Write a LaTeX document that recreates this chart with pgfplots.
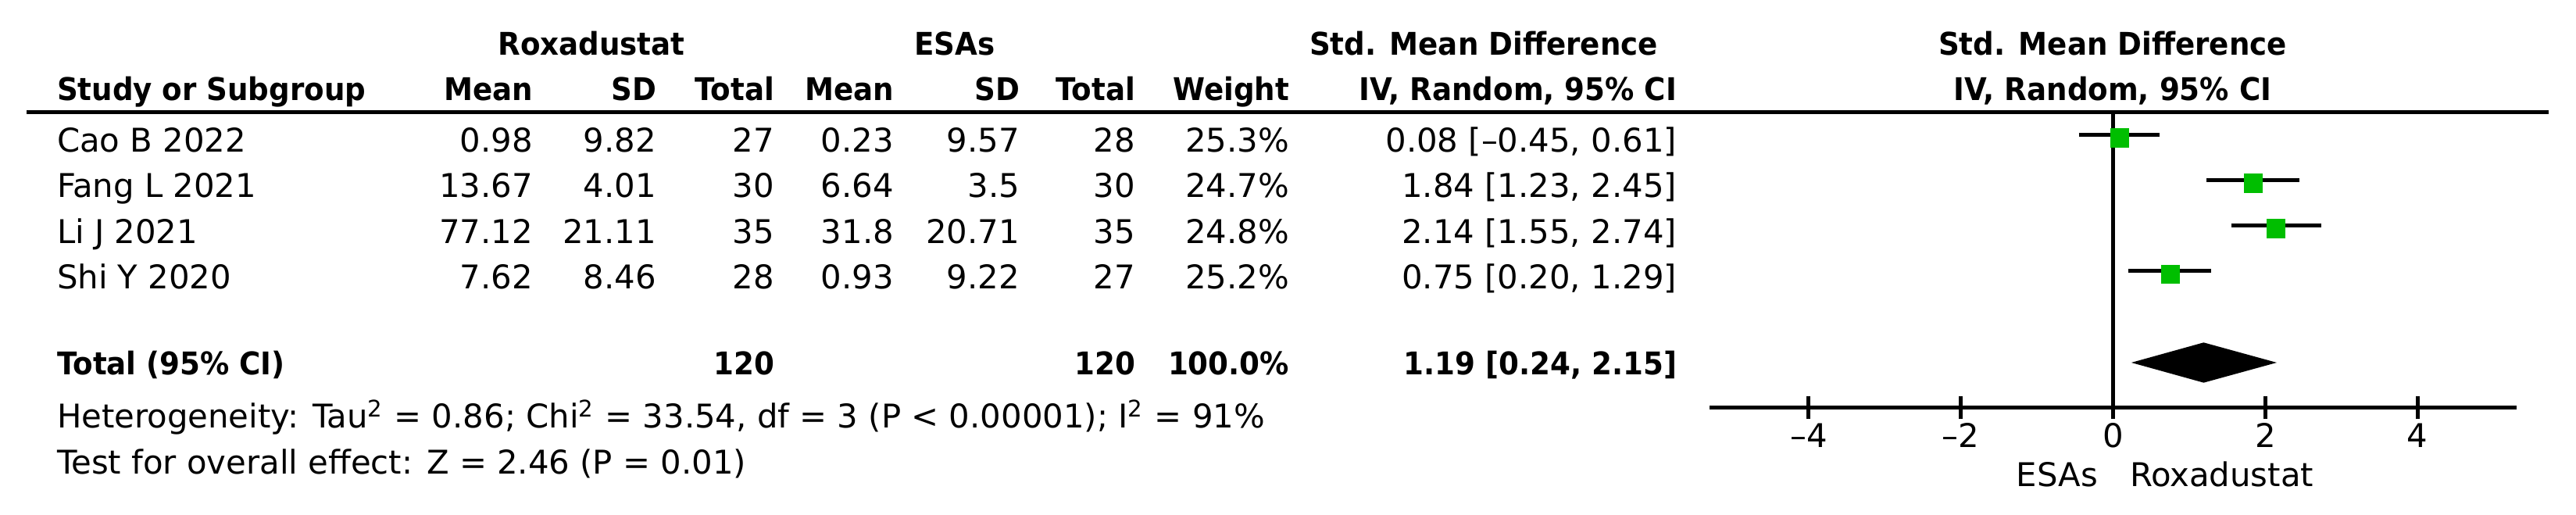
\documentclass[border=0pt]{standalone}
\usepackage{fontspec}
\setmainfont{DejaVu Sans}[BoldFeatures={FakeStretch=0.93}]
\usepackage{pgfplots}
\pgfplotsset{compat=1.18}
\definecolor{rmgreen}{RGB}{0,190,0}
\begin{document}
\begin{tikzpicture}[font=\fontsize{10.45pt}{12pt}\selectfont]
\path[use as bounding box] (0,0) rectangle (824.25pt,-164.75pt);
\begin{scope}[x=0.25pt,y=-0.25pt, every node/.style={inner sep=0pt, outer sep=0pt}]
\draw[line width=1.25pt] (34,143.5) -- (3262,143.5);
% header line 1
\node[anchor=base, font=\bfseries] at (757,71) {Roxadustat};
\node[anchor=base, font=\bfseries] at (1222,71) {ESAs};
\node[anchor=base, font=\bfseries] at (1899,71) {Std. Mean Difference};
\node[anchor=base, font=\bfseries] at (2704,71) {Std. Mean Difference};
% header line 2
\node[anchor=base west, font=\bfseries] at (73,129) {Study or Subgroup};
\node[anchor=base east, font=\bfseries] at (682,129) {Mean};
\node[anchor=base east, font=\bfseries] at (840,129) {SD};
\node[anchor=base east, font=\bfseries] at (991,129) {Total};
\node[anchor=base east, font=\bfseries] at (1144,129) {Mean};
\node[anchor=base east, font=\bfseries] at (1305,129) {SD};
\node[anchor=base east, font=\bfseries] at (1453,129) {Total};
\node[anchor=base east, font=\bfseries] at (1650,129) {Weight};
\node[anchor=base east, font=\bfseries] at (2146,129) {IV, Random, 95\% CI};
\node[anchor=base, font=\bfseries] at (2704,129) {IV, Random, 95\% CI};
% rows
\foreach \y/\s/\ma/\sa/\na/\mb/\sb/\nb/\w/\ci in {
 195/Cao B 2022/0.98/9.82/27/0.23/9.57/28/25.3\%/{0.08 [–0.45, 0.61]},
 253/Fang L 2021/13.67/4.01/30/6.64/3.5/30/24.7\%/{1.84 [1.23, 2.45]},
 312/Li J 2021/77.12/21.11/35/31.8/20.71/35/24.8\%/{2.14 [1.55, 2.74]},
 370/Shi Y 2020/7.62/8.46/28/0.93/9.22/27/25.2\%/{0.75 [0.20, 1.29]}}{
 \node[anchor=base west] at (73,\y) {\s};
 \node[anchor=base east] at (682,\y) {\ma};
 \node[anchor=base east] at (840,\y) {\sa};
 \node[anchor=base east] at (991,\y) {\na};
 \node[anchor=base east] at (1144,\y) {\mb};
 \node[anchor=base east] at (1305,\y) {\sb};
 \node[anchor=base east] at (1453,\y) {\nb};
 \node[anchor=base east] at (1650,\y) {\w};
 \node[anchor=base east] at (2146,\y) {\ci};
}
% total
\node[anchor=base west, font=\bfseries] at (73,480) {Total (95\% CI)};
\node[anchor=base east, font=\bfseries] at (991,480) {120};
\node[anchor=base east, font=\bfseries] at (1453,480) {120};
\node[anchor=base east, font=\bfseries] at (1650,480) {100.0\%};
\node[anchor=base east, font=\bfseries] at (2146,480) {1.19 [0.24, 2.15]};
\node[anchor=base west] at (73,548) {Heterogeneity: Tau\textsuperscript{2} = 0.86; Chi\textsuperscript{2} = 33.54, df = 3 (P < 0.00001); I\textsuperscript{2} = 91\%};
\node[anchor=base west] at (73,607) {Test for overall effect: Z = 2.46 (P = 0.01)};
\node[anchor=base east] at (2685,623) {ESAs};
\node[anchor=base west] at (2726,623) {Roxadustat};
\end{scope}
\begin{axis}[at={(547.07pt,-130.5pt)}, anchor=south west,
  x=24.35pt, y=0.25pt, xmin=-5.3, xmax=5.3, ymin=-522, ymax=-143.5,
  axis y line=none, axis x line*=bottom,
  xtick={-4,-2,0,2,4}, xticklabels={–4,–2,0,2,4},
  tick align=center, major tick length=7.25pt,
  every tick/.style={line width=1.25pt, black},
  axis line style={line width=1.25pt, black},
  xticklabel style={anchor=base, yshift=-9.1pt, inner sep=0pt},
  clip=false]
\addplot[line width=1.25pt] coordinates {(0,-143.5) (0,-522)};
\addplot[line width=1.25pt] coordinates {(-0.45,-172.5) (0.61,-172.5)};
\addplot[line width=1.25pt] coordinates {(1.23,-230.5) (2.45,-230.5)};
\addplot[line width=1.25pt] coordinates {(1.55,-288.5) (2.74,-288.5)};
\addplot[line width=1.25pt] coordinates {(0.20,-347) (1.29,-347)};
\addplot[only marks, draw=rmgreen, fill=rmgreen, mark=square*, mark size=2.9pt,
  mark options={draw=rmgreen, fill=rmgreen, line width=0.1pt}]
  coordinates {(0.08,-176.3) (1.84,-234.3) (2.14,-292.3) (0.75,-351)};
\addplot[fill=black, draw=none] coordinates {(0.24,-464) (1.19,-438.3) (2.15,-464) (1.19,-489.7)} -- cycle;
\end{axis}
\end{tikzpicture}
\end{document}
